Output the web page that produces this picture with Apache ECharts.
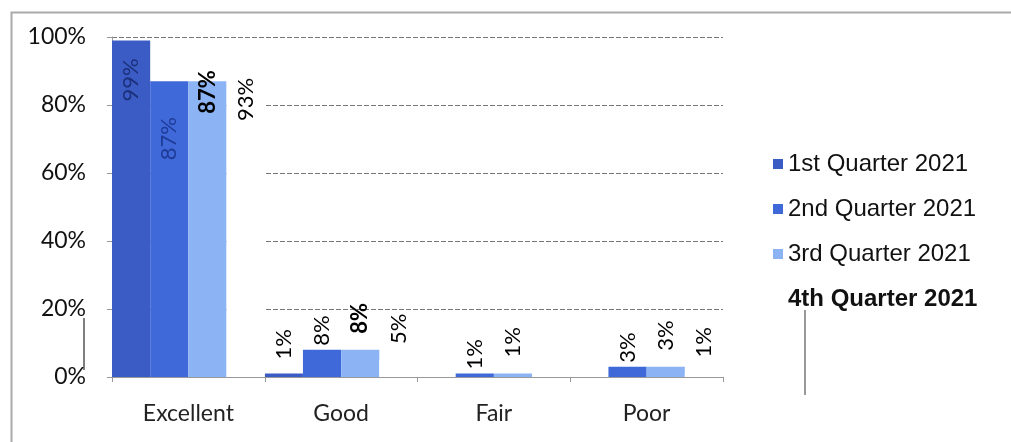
<!DOCTYPE html>
<html><head><meta charset="utf-8">
<script src="https://cdn.jsdelivr.net/npm/echarts@6/dist/echarts.min.js"></script>
<style>html,body{margin:0;padding:0;background:#fff}#c{width:1011px;height:442px}</style>
</head><body><div id="c"></div>
<script>
const categories = ['Excellent', 'Good', 'Fair', 'Poor'];
const seriesNames = ['1st Quarter 2021', '2nd Quarter 2021', '3rd Quarter 2021', '4th Quarter 2021'];
const q1 = [99, 1, 0, 0];
const q2 = [87, 8, 1, 3];
const q3 = [87, 8, 1, 3];
const q4 = [93, 5, 0, 1];
const yTicks = [0, 20, 40, 60, 80, 100];

const values = [q1, q2, q3, q4];
const colors = ['#3a5cc4', '#3f69d8', '#8cb4f5', '#ffffff'];
const insideGap = [18, 36, -11, 17];
const topGap = [14, 4, 16, 16];
const bigLabelColor = ['#1c2f7a', '#1e3a96', '#000', '#000'];
const FONT = 'Lato, "Open Sans", sans-serif';

const series = values.map((arr, si) => ({
  name: seriesNames[si],
  type: 'bar',
  barGap: '0%',
  barCategoryGap: '0%',
  itemStyle: { color: colors[si] },
  emphasis: { disabled: true },
  data: arr.map(v => {
    const big = v >= 50;
    return {
      value: v,
      label: {
        show: v > 0,
        position: big ? 'insideTop' : 'top',
        distance: big ? insideGap[si] : topGap[si],
        rotate: 90,
        align: big ? 'right' : 'left',
        verticalAlign: 'middle',
        color: big ? bigLabelColor[si] : '#000',
        fontWeight: (si === 2 && v >= 5) ? 'bold' : 'normal',
        fontFamily: FONT,
        fontSize: 22,
        formatter: '{c}%'
      }
    };
  })
}));

const chart = echarts.init(document.getElementById('c'), null, { renderer: 'canvas' });
chart.setOption({
  animation: false,
  backgroundColor: '#fff',
  grid: { left: 112, right: 288, top: 37, bottom: 65, containLabel: false },
  legend: {
    orient: 'vertical',
    left: 768,
    top: 147,
    itemWidth: 10,
    itemHeight: 10,
    itemGap: 21,
    selectedMode: false,
    textStyle: { fontFamily: '"Liberation Sans", Arial, sans-serif', fontSize: 24, color: '#111' },
    data: seriesNames.map((n, i) => i === 3
      ? { name: n, icon: 'none', textStyle: { fontWeight: 'bold' } }
      : { name: n, icon: 'rect' })
  },
  xAxis: {
    type: 'category',
    data: categories,
    axisLine: { lineStyle: { color: '#999', width: 1 } },
    axisTick: { show: true, length: 5, lineStyle: { color: '#999' } },
    axisLabel: { margin: 25, fontFamily: FONT, fontSize: 23, color: '#222' }
  },
  yAxis: {
    type: 'value',
    min: yTicks[0],
    max: yTicks[yTicks.length - 1],
    interval: yTicks[1] - yTicks[0],
    axisLine: { show: true, lineStyle: { color: '#999' } },
    axisTick: { show: true, length: 5, lineStyle: { color: '#999' } },
    axisLabel: { margin: 26, fontFamily: FONT, fontSize: 23, color: '#111', formatter: '{value}%' },
    splitLine: { lineStyle: { color: '#777', type: [5, 2], width: 1 } }
  },
  graphic: [
    { type: 'rect', left: 9, top: 10, shape: { width: 1010, height: 440 }, style: { fill: 'none', stroke: '#aaa', lineWidth: 2 }, silent: true },
    { type: 'line', shape: { x1: 84, y1: 318, x2: 84, y2: 370 }, style: { stroke: '#555', lineWidth: 1.5 }, silent: true },
    { type: 'line', shape: { x1: 805, y1: 310, x2: 805, y2: 395 }, style: { stroke: '#777', lineWidth: 1.5 }, silent: true }
  ],
  series: series
});
</script>
</body></html>
